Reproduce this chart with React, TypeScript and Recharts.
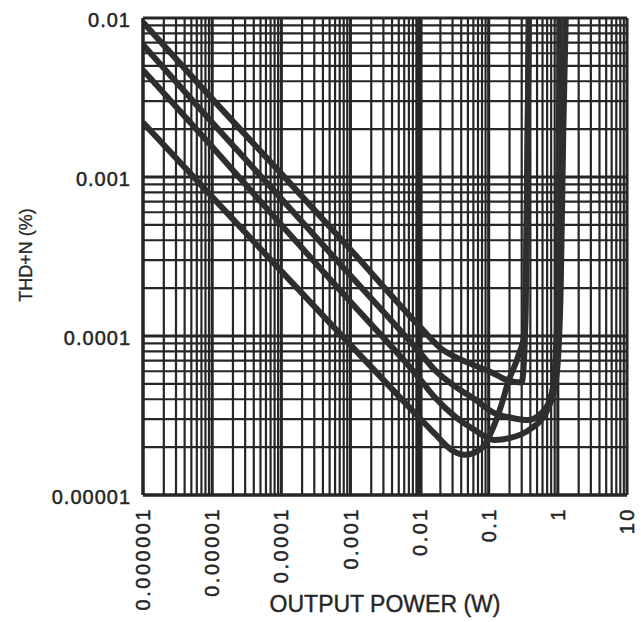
import React from 'react';
import { LineChart, Line, XAxis, YAxis, CartesianGrid, ReferenceLine } from 'recharts';

// decades and labels
const xDecades = [1e-6, 1e-5, 1e-4, 1e-3, 0.01, 0.1, 1, 10];
const xLabels = ['0.000001', '0.00001', '0.0001', '0.001', '0.01', '0.1', '1', '10'];
const yDecades = [1e-5, 1e-4, 1e-3, 0.01];
const yLabels = ['0.00001', '0.0001', '0.001', '0.01'];
const multipliers = [1, 2, 3, 4, 5, 6, 7, 8, 9];
const heavyX = [0.01];

// THD+N curves (W, %)
const curveA = [
  { x: 1e-6, y: 0.0094 },
  { x: 1e-5, y: 0.0031 },
  { x: 1e-4, y: 0.00105 },
  { x: 1e-3, y: 0.00035 },
  { x: 0.01, y: 0.000115 },
  { x: 0.02, y: 8.4e-5 },
  { x: 0.05, y: 6.8e-5 },
  { x: 0.11, y: 5.9e-5 },
  { x: 0.18, y: 5.3e-5 },
  { x: 0.3, y: 5.1e-5 },
  { x: 0.335, y: 1e-4 },
  { x: 0.36, y: 0.001 },
  { x: 0.38, y: 0.01 },
];

const curveB = [
  { x: 1e-6, y: 0.0068 },
  { x: 1e-5, y: 0.0022 },
  { x: 1e-4, y: 0.00073 },
  { x: 1e-3, y: 0.00024 },
  { x: 0.01, y: 7.9e-5 },
  { x: 0.0167, y: 6.1e-5 },
  { x: 0.033, y: 4.8e-5 },
  { x: 0.063, y: 4.0e-5 },
  { x: 0.117, y: 3.3e-5 },
  { x: 0.22, y: 3.05e-5 },
  { x: 0.37, y: 2.96e-5 },
  { x: 0.59, y: 3.3e-5 },
  { x: 0.82, y: 4.4e-5 },
  { x: 0.97, y: 1.1e-4 },
  { x: 1.02, y: 0.001 },
  { x: 1.07, y: 0.01 },
];

const curveC = [
  { x: 1e-6, y: 0.0047 },
  { x: 1e-5, y: 0.00155 },
  { x: 1e-4, y: 0.0005 },
  { x: 1e-3, y: 0.000164 },
  { x: 0.01, y: 5.4e-5 },
  { x: 0.0167, y: 4.1e-5 },
  { x: 0.033, y: 3.1e-5 },
  { x: 0.063, y: 2.56e-5 },
  { x: 0.09, y: 2.32e-5 },
  { x: 0.12, y: 2.22e-5 },
  { x: 0.2, y: 2.28e-5 },
  { x: 0.4, y: 2.6e-5 },
  { x: 0.7, y: 3.4e-5 },
  { x: 0.95, y: 5.5e-5 },
  { x: 1.1, y: 2e-4 },
  { x: 1.2, y: 0.002 },
  { x: 1.3, y: 0.01 },
];

const curveD = [
  { x: 1e-6, y: 0.0022 },
  { x: 1e-5, y: 0.00075 },
  { x: 1e-4, y: 0.000256 },
  { x: 1e-3, y: 8.8e-5 },
  { x: 0.01, y: 3.05e-5 },
  { x: 0.0167, y: 2.42e-5 },
  { x: 0.029, y: 1.92e-5 },
  { x: 0.045, y: 1.79e-5 },
  { x: 0.08, y: 1.98e-5 },
  { x: 0.112, y: 2.56e-5 },
  { x: 0.156, y: 3.8e-5 },
  { x: 0.19, y: 5.1e-5 },
  { x: 0.265, y: 7.4e-5 },
  { x: 0.335, y: 1.09e-4 },
  { x: 0.36, y: 0.001 },
  { x: 0.38, y: 0.01 },
];

const curves = [curveA, curveB, curveC, curveD];

const xTicks = xDecades.slice(0, -1).flatMap((d) => multipliers.map((m) => m * d)).concat([10]);
const yTicks = yDecades.slice(0, -1).flatMap((d) => multipliers.map((m) => m * d)).concat([0.01]);

const ink = '#262626';
const font = '"Liberation Sans", Arial, sans-serif';

const XTick = (props: any) => {
  const { x, y, payload } = props;
  const i = xDecades.indexOf(payload.value);
  if (i < 0) return <g />;
  return (
    <text
      x={x}
      y={y}
      transform={`rotate(-90, ${x}, ${y})`}
      textAnchor="end"
      dy="0.36em"
      fontSize={20}
      letterSpacing={2.5}
      fontFamily={font}
      fill={ink}
      stroke={ink}
      strokeWidth={0.5}
    >
      {xLabels[i]}
    </text>
  );
};

const YTick = (props: any) => {
  const { x, y, payload } = props;
  const i = yDecades.indexOf(payload.value);
  if (i < 0) return <g />;
  return (
    <text
      x={x}
      y={y + 2}
      textAnchor="end"
      dy="0.36em"
      fontSize={20}
      letterSpacing={1}
      fontFamily={font}
      fill={ink}
      stroke={ink}
      strokeWidth={0.5}
    >
      {yLabels[i]}
    </text>
  );
};

export default function App() {
  return (
    <div style={{ position: 'absolute', left: 0, top: 0, width: 641, height: 622, background: '#fff' }}>
      <LineChart width={641} height={622} margin={{ top: 18, right: 14, bottom: 0, left: 0 }}>
        <CartesianGrid stroke={ink} strokeWidth={2.2} />
        <XAxis
          type="number"
          dataKey="x"
          scale="log"
          domain={[1e-6, 10]}
          ticks={xTicks}
          interval={0}
          allowDataOverflow
          height={127}
          tickSize={0}
          tickMargin={12}
          tickLine={false}
          axisLine={{ stroke: ink, strokeWidth: 3 }}
          tick={<XTick />}
        />
        <YAxis
          type="number"
          dataKey="y"
          scale="log"
          domain={[1e-5, 0.01]}
          ticks={yTicks}
          interval={0}
          allowDataOverflow
          width={143}
          tickSize={0}
          tickMargin={12}
          tickLine={false}
          axisLine={{ stroke: ink, strokeWidth: 3 }}
          tick={<YTick />}
        />
        {xDecades.map((d) => (
          <ReferenceLine key={'xd' + d} x={d} stroke={ink} strokeWidth={heavyX.includes(d) ? 6 : 3} />
        ))}
        {yDecades.map((d) => (
          <ReferenceLine key={'yd' + d} y={d} stroke={ink} strokeWidth={3} />
        ))}
        {curves.map((c, i) => (
          <Line
            key={i}
            data={c}
            dataKey="y"
            type="monotone"
            stroke="#2e2e2e"
            strokeWidth={6}
            dot={false}
            isAnimationActive={false}
          />
        ))}
      </LineChart>
      <div
        style={{
          position: 'absolute',
          left: 385,
          top: 604,
          transform: 'translate(-50%, -50%)',
          whiteSpace: 'nowrap',
          fontFamily: font,
          fontSize: 23,
          color: ink,
          WebkitTextStroke: '0.4px ' + ink,
        }}
      >
        OUTPUT POWER (W)
      </div>
      <div
        style={{
          position: 'absolute',
          left: 26,
          top: 255,
          transform: 'translate(-50%, -50%) rotate(-90deg)',
          whiteSpace: 'nowrap',
          fontFamily: font,
          fontSize: 18,
          color: ink,
          WebkitTextStroke: '0.3px ' + ink,
        }}
      >
        THD+N (%)
      </div>
    </div>
  );
}
